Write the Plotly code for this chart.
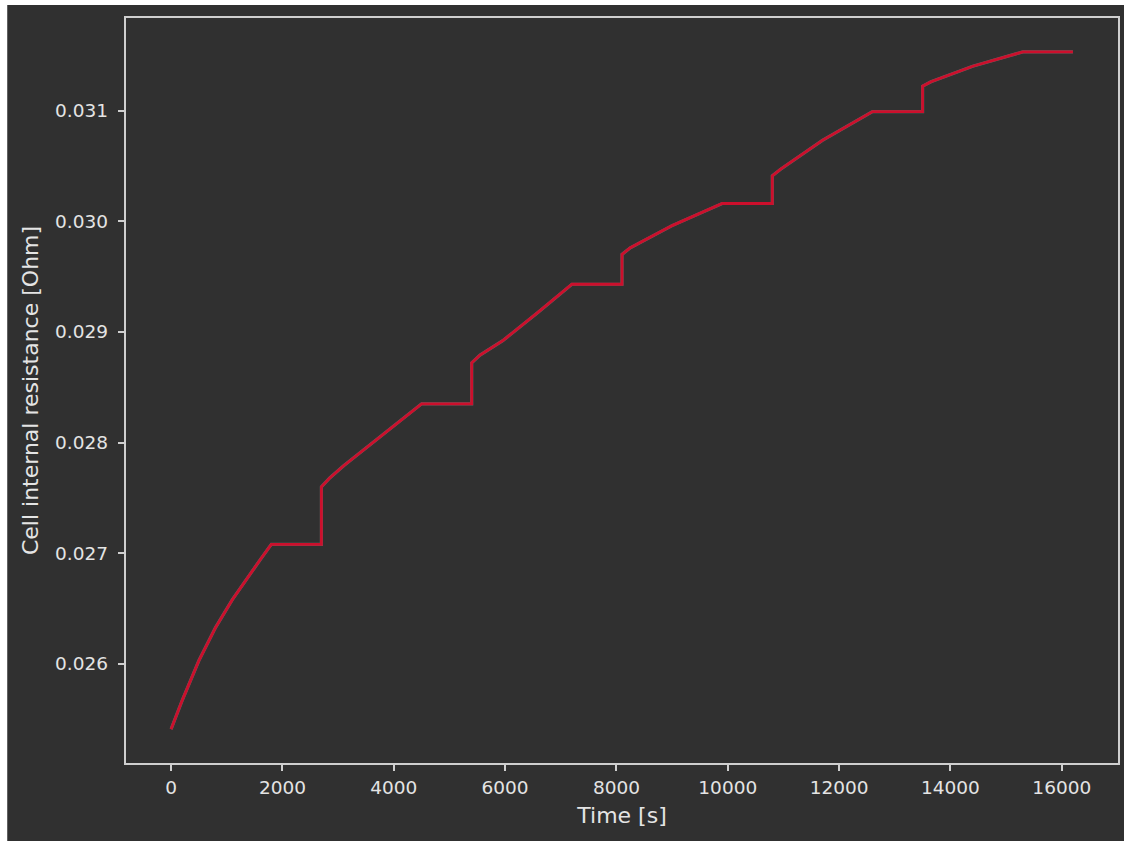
import plotly.graph_objects as go

# Cell internal resistance over a pulsed discharge / rest profile
time_s = [0, 200, 500, 800, 1100, 1400, 1600, 1800,
          2700, 2700, 2850, 3100, 3683, 4100, 4500,
          5400, 5400, 5550, 5958, 6600, 7200,
          8100, 8100, 8250, 9000, 9900,
          10800, 10800, 10950, 11700, 12600,
          13500, 13500, 13650, 14400, 15300, 16200]
resistance_ohm = [0.02541, 0.02567, 0.02603, 0.02633, 0.02658, 0.02680, 0.02694, 0.02708,
                  0.02708, 0.02760, 0.02768, 0.02779, 0.02802, 0.02819, 0.02835,
                  0.02835, 0.02872, 0.02879, 0.02892, 0.02918, 0.02943,
                  0.02943, 0.02970, 0.02976, 0.02996, 0.03016,
                  0.03016, 0.03041, 0.03047, 0.03073, 0.03099,
                  0.03099, 0.03122, 0.03126, 0.03140, 0.03153, 0.03153]

x_ticks = [0, 2000, 4000, 6000, 8000, 10000, 12000, 14000, 16000]
y_ticks = [0.026, 0.027, 0.028, 0.029, 0.030, 0.031]

BG = "#303030"
SPINE = "#cfcfcf"
TEXT = "#e4e4e4"
RED = "#cc0f2c"
FONT = "DejaVu Sans"


def padded(vals, frac=0.05):
    lo, hi = min(vals), max(vals)
    span = hi - lo
    return [lo - frac * span, hi + frac * span]


fig = go.Figure()

# faint light trace underneath giving the thin fringe along the red line
fig.add_trace(go.Scatter(x=time_s, y=resistance_ohm, mode="lines",
                         line=dict(color="rgba(225,225,225,0.3)", width=3.2),
                         hoverinfo="skip", showlegend=False))
fig.add_trace(go.Scatter(x=time_s, y=resistance_ohm, mode="lines",
                         line=dict(color=RED, width=2.8),
                         showlegend=False))

axis_common = dict(
    showgrid=False, zeroline=False,
    showline=True, linecolor=SPINE, linewidth=1.5, mirror=True,
    ticks="outside", ticklen=6.5, tickwidth=1.5, tickcolor=SPINE,
    tickfont=dict(family=FONT, size=18.5, color=TEXT),
)

fig.update_xaxes(
    **axis_common,
    range=padded(time_s),
    tickvals=x_ticks, ticktext=[str(v) for v in x_ticks],
    ticklabelstandoff=1,
    title=dict(text="Time [s]", font=dict(family=FONT, size=22, color=TEXT), standoff=10),
)
fig.update_yaxes(
    **axis_common,
    range=padded(resistance_ohm),
    tickvals=y_ticks, ticktext=[f"{v:.3f}" for v in y_ticks],
    ticklabelstandoff=6,
    title=dict(text="Cell internal resistance [Ohm]",
               font=dict(family=FONT, size=22, color=TEXT), standoff=10),
)

# dark figure panel with a thin light edge on the left and top
L, R, T, B = 126, 4, 18, 78
W, H = 1124, 841
pw, ph = W - L - R, H - T - B
fig.add_shape(type="rect", xref="paper", yref="paper", layer="below",
              x0=(7 - L) / pw, x1=(W + 5 - L) / pw,
              y0=-(B + 5) / ph, y1=(H - B - 5) / ph,
              line=dict(width=0), fillcolor=BG)

fig.update_layout(
    width=W, height=H,
    margin=dict(l=L, r=R, t=T, b=B),
    paper_bgcolor="white",
    plot_bgcolor=BG,
    font=dict(family=FONT, color=TEXT),
)

fig.write_html("out.html")
